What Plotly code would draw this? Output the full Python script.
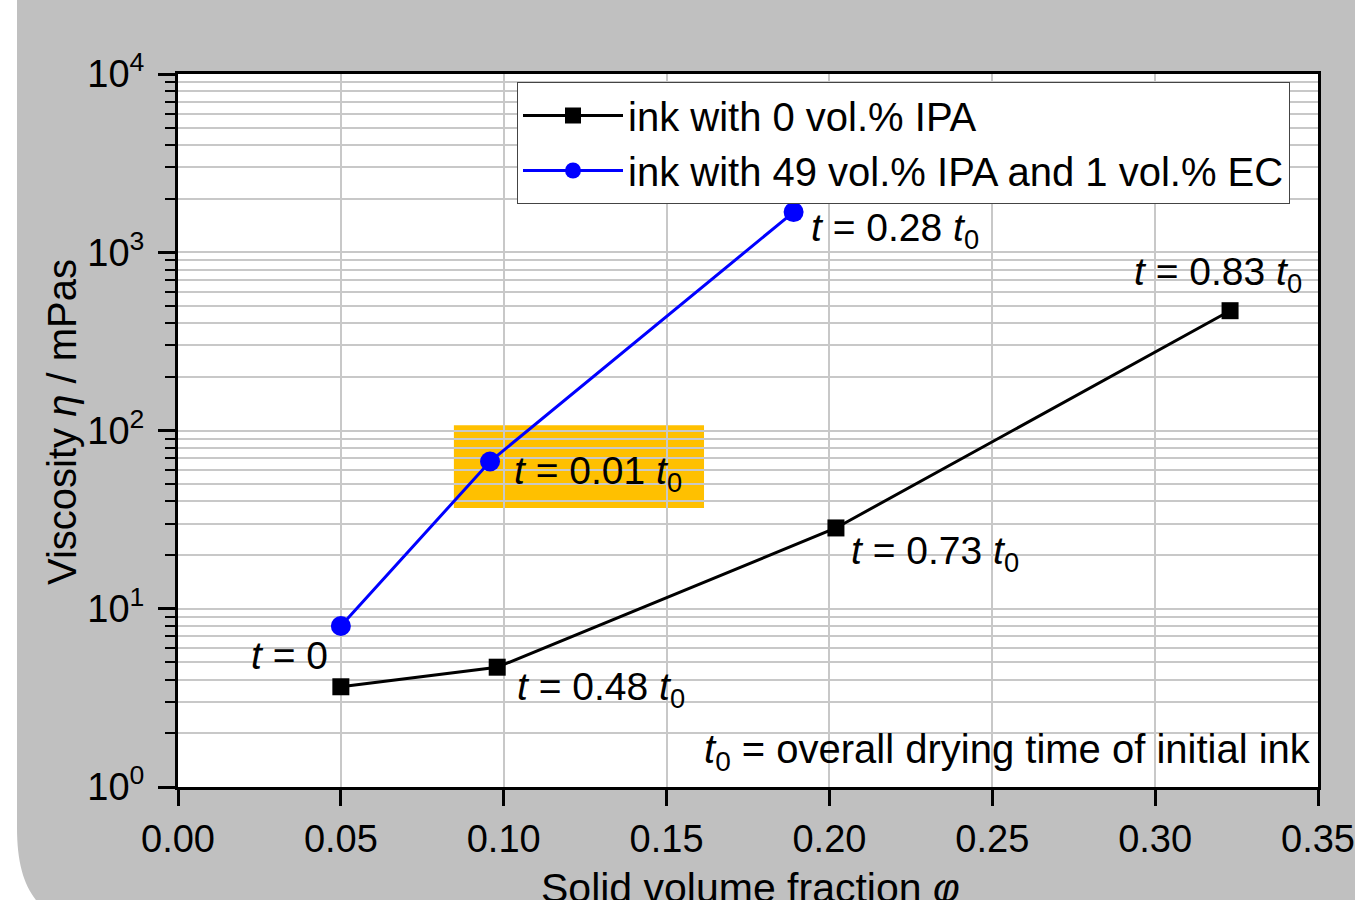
import math
import plotly.graph_objects as go

# ---------------- data ----------------
phi_ipa0 = [0.050, 0.098, 0.202, 0.323]
eta_ipa0 = [3.65, 4.7, 28.4, 470]
labels_ipa0 = ["<i>t</i> = 0", "<i>t</i> = 0.48 <i>t</i><sub>0</sub>",
               "<i>t</i> = 0.73 <i>t</i><sub>0</sub>", "<i>t</i> = 0.83 <i>t</i><sub>0</sub>"]

phi_ipa49 = [0.050, 0.0958, 0.189]
eta_ipa49 = [8.0, 67, 1680]
labels_ipa49 = [None, "<i>t</i> = 0.01 <i>t</i><sub>0</sub>", "<i>t</i> = 0.28 <i>t</i><sub>0</sub>"]

name_ipa0 = "ink with 0 vol.% IPA"
name_ipa49 = "ink with 49 vol.% IPA and 1 vol.% EC"

x_ticks = [0.00, 0.05, 0.10, 0.15, 0.20, 0.25, 0.30, 0.35]
y_major = [1, 10, 100, 1000, 10000]
y_major_text = ["10<sup>0</sup>", "10<sup>1</sup>", "10<sup>2</sup>", "10<sup>3</sup>", "10<sup>4</sup>"]
y_minor = [m * d for d in [1, 10, 100, 1000] for m in range(2, 10)]

highlight_x = [0.0847, 0.1615]
highlight_y = [36.7, 107]

# ---------------- layout geometry ----------------
W, H = 1355, 900
L, R, T, B = 178, 37, 74, 113
PW, PH = W - L - R, H - T - B


def px(xp):
    return (xp - L) / PW


def py(yp):
    return (H - B - yp) / PH


FONT = "Liberation Sans, Arial, sans-serif"
GRID = "#c8c8c8"

fig = go.Figure()
fig.add_trace(go.Scatter(
    x=phi_ipa0, y=eta_ipa0, mode="lines+markers", name=name_ipa0,
    line=dict(color="black", width=3),
    marker=dict(symbol="square", size=17, color="black"),
))
fig.add_trace(go.Scatter(
    x=phi_ipa49, y=eta_ipa49, mode="lines+markers", name=name_ipa49,
    line=dict(color="#0000ff", width=3),
    marker=dict(symbol="circle", size=20, color="#0000ff"),
))

# highlight box behind the t = 0.01 t0 label (below the grid)
fig.add_shape(type="rect", xref="x", yref="y",
              x0=highlight_x[0], x1=highlight_x[1], y0=highlight_y[0], y1=highlight_y[1],
              fillcolor="#ffc000", line=dict(width=0), layer="below")

# white page strip with rounded corner at left
path = (f"M {px(-5)},{py(-5)} L {px(17)},{py(-5)} L {px(17)},{py(827)} "
        f"C {px(17)},{py(866)} {px(25)},{py(888)} {px(40)},{py(905)} "
        f"L {px(-5)},{py(905)} Z")
fig.add_shape(type="path", xref="paper", yref="paper", path=path,
              fillcolor="white", line=dict(width=0), layer="below")

ann_font = dict(family=FONT, size=39, color="black")

# label offsets (pixels) relative to their data points
off_ipa0 = [(-11, 31, "right"), (18, -22, "left"), (13, -26, "left"), (-98, 36, "left")]
off_ipa49 = [None, (22, -12, "left"), (15, -18, "left")]

for xv, yv, lab, off in zip(phi_ipa0, eta_ipa0, labels_ipa0, off_ipa0):
    fig.add_annotation(x=xv, y=math.log10(yv), xref="x", yref="y", text=lab, showarrow=False,
                       xanchor=off[2], yanchor="middle", xshift=off[0], yshift=off[1],
                       font=ann_font)
for xv, yv, lab, off in zip(phi_ipa49, eta_ipa49, labels_ipa49, off_ipa49):
    if lab is None:
        continue
    fig.add_annotation(x=xv, y=math.log10(yv), xref="x", yref="y", text=lab, showarrow=False,
                       xanchor=off[2], yanchor="middle", xshift=off[0], yshift=off[1],
                       font=ann_font)

fig.add_annotation(x=px(1313), y=py(752), xref="paper", yref="paper",
                   text="<i>t</i><sub>0</sub> = overall drying time of initial ink",
                   showarrow=False, xanchor="right", yanchor="middle",
                   font=dict(family=FONT, size=40, color="black"))

# axis titles
fig.add_annotation(x=px(750), y=py(888), xref="paper", yref="paper",
                   text="Solid volume fraction <i>φ</i>", showarrow=False,
                   xanchor="center", yanchor="middle",
                   font=dict(family=FONT, size=41, color="black"))
fig.add_annotation(x=px(62), y=py(422), xref="paper", yref="paper",
                   text="Viscosity <i>η</i> / mPas", showarrow=False, textangle=-90,
                   xanchor="center", yanchor="middle",
                   font=dict(family=FONT, size=40, color="black"))

fig.update_xaxes(
    range=[0, 0.35], tickmode="array", tickvals=x_ticks, tickformat=".2f",
    ticks="outside", ticklen=16, tickwidth=3, tickcolor="black",
    showline=True, linewidth=3, linecolor="black", mirror=True,
    showgrid=True, gridcolor=GRID, gridwidth=2, zeroline=False,
    tickfont=dict(family=FONT, size=38, color="black"),
)
fig.update_yaxes(
    type="log", range=[0, 4], tickmode="array", tickvals=y_major, ticktext=y_major_text,
    ticks="outside", ticklen=17, tickwidth=3, tickcolor="black", ticklabelstandoff=6,
    showline=True, linewidth=3, linecolor="black", mirror=True,
    showgrid=True, gridcolor=GRID, gridwidth=2, zeroline=False,
    tickfont=dict(family=FONT, size=38, color="black"),
    minor=dict(tickmode="array", tickvals=y_minor, ticks="outside", ticklen=10,
               tickwidth=2, tickcolor="black", showgrid=True, gridcolor=GRID, gridwidth=2),
)

fig.update_layout(
    width=W, height=H,
    margin=dict(l=L, r=R, t=T, b=B, autoexpand=False),
    paper_bgcolor="#c0c0c0", plot_bgcolor="white",
    font=dict(family=FONT, color="black"),
    showlegend=True,
    legend=dict(x=px(517), y=py(82), xanchor="left", yanchor="top",
                bgcolor="white", bordercolor="#444444", borderwidth=1,
                font=dict(family=FONT, size=40, color="black"),
                itemwidth=100, tracegroupgap=0),
)

fig.write_html("out.html", config={"displayModeBar": False},
               post_script="document.body.style.margin='0';")
